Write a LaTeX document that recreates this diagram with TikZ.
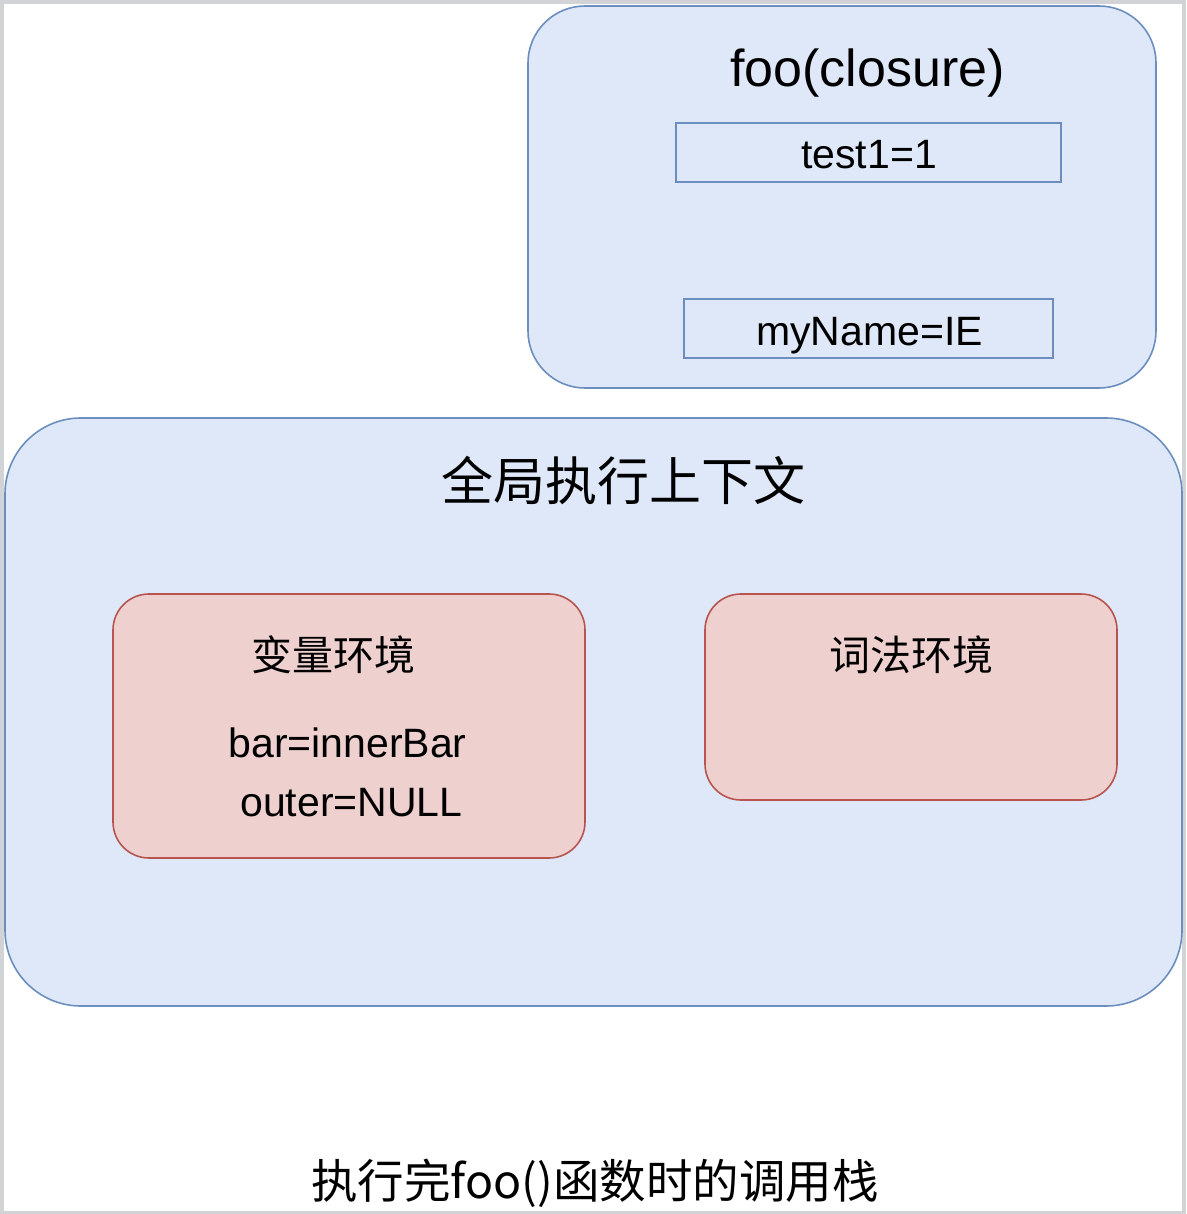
\documentclass[tikz,border=0pt]{standalone}
\usepackage{fontspec}
\setmainfont{Liberation Sans}
\newfontfamily\cjk{Noto Sans CJK SC}
\definecolor{bluefill}{HTML}{DFE8F8}
\definecolor{bluedraw}{HTML}{6C8EBF}
\definecolor{redfill}{HTML}{EED0CF}
\definecolor{reddraw}{HTML}{B85450}
\definecolor{framegrey}{HTML}{D2D3D6}
\tikzset{
  bluebox/.style={draw=bluedraw, fill=bluefill, line width=1.6pt},
  redbox/.style={draw=reddraw, fill=redfill, line width=1.6pt},
  varbox/.style={draw=bluedraw, line width=1.6pt},
  lbl/.style={inner sep=0pt, font=\fontsize{41}{48}\selectfont},
  cjklbl/.style={inner sep=0pt, font=\cjk\fontsize{41}{48}\selectfont},
}
\begin{document}
\begin{tikzpicture}[x=1pt,y=-1pt]
\useasboundingbox (0,0) rectangle (1186,1214);
\fill[framegrey] (0,0) rectangle (1186,1214);
\fill[white] (4,4) rectangle (1182,1211);
% foo closure box
\draw[bluebox, rounded corners=57pt] (528,6) rectangle (1156,388);
\node[lbl, font=\fontsize{52}{60}\selectfont, anchor=base] (footitle) at (867.5,87) {foo(closure)};
\node[varbox, minimum width=385pt, minimum height=59pt, inner sep=0pt] (test1) at (868.5,152.5) {};
\node[lbl, anchor=base] (test1t) at (869,169) {test1=1};
\node[varbox, minimum width=369pt, minimum height=59pt, inner sep=0pt] (myname) at (868.5,328.5) {};
\node[lbl, anchor=base] (mynamet) at (869.5,345) {myName=IE};
% global context
\draw[bluebox, rounded corners=76pt] (5,418) rectangle (1182,1006);
\node[cjklbl, font=\cjk\fontsize{52}{60}\selectfont] (gtitle) at (623,481) {全局执行上下文};
% variable environment
\draw[redbox, rounded corners=36pt] (113,594) rectangle (585,858);
\node[cjklbl] (vtitle) at (333,655) {变量环境};
\node[lbl, anchor=base] (bar) at (347.5,757) {bar=innerBar};
\node[lbl, anchor=base] (outer) at (351.5,816) {outer=NULL};
% lexical environment
\draw[redbox, rounded corners=36pt] (705,594) rectangle (1117,800);
\node[cjklbl] (ltitle) at (911,655) {词法环境};
% caption
\node[inner sep=0pt, font=\cjk\fontsize{46.5}{54}\selectfont] (caption) at (595,1183) {执行完foo()函数时的调用栈};
\end{tikzpicture}
\end{document}
